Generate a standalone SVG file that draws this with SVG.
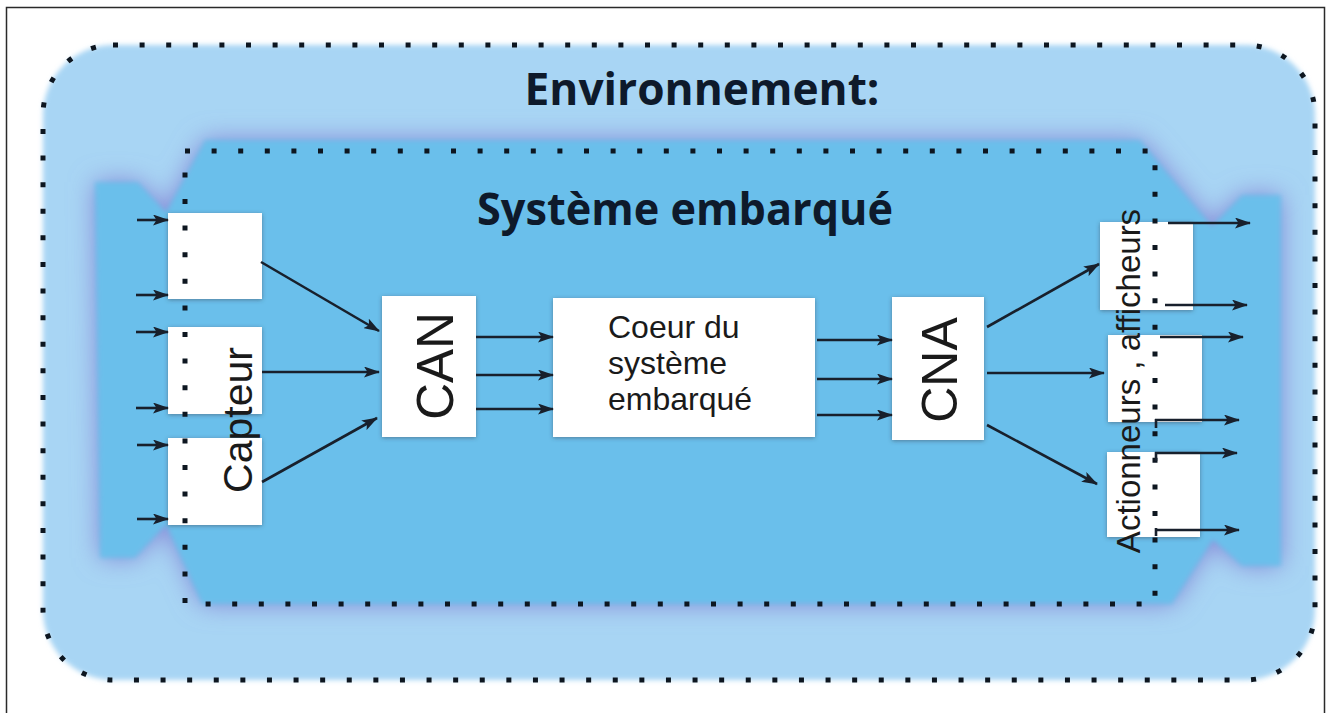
<svg xmlns="http://www.w3.org/2000/svg" width="1332" height="713" viewBox="0 0 1332 713">
  <style>
    .dots { fill: none; stroke: #0d1620; stroke-width: 5; stroke-dasharray: 5 21.6; }
    .box { fill: #ffffff; filter: url(#boxShadow); }
    .wire { fill: none; stroke: #18202c; stroke-width: 2.6; marker-end: url(#head); }
    .tick { fill: none; stroke: #18202c; stroke-width: 2.6; }
    .heading { font-family: "Open Sans", "Liberation Sans", sans-serif; font-weight: bold; font-size: 44px; fill: #0e1a2b; text-anchor: middle; }
    .label { font-family: "Liberation Sans", Arial, sans-serif; fill: #1a1a1a; }
  </style>
  <defs>
    <marker id="head" viewBox="0 0 16 11" refX="15" refY="5.5" markerWidth="16" markerHeight="11" markerUnits="userSpaceOnUse" orient="auto">
      <path d="M0,0 L16,5.5 L0,11 L3.5,5.5 Z" fill="#18202c"/>
    </marker>
    <filter id="soft" x="-5%" y="-5%" width="110%" height="110%">
      <feGaussianBlur stdDeviation="2.5"/>
    </filter>
    <filter id="glow" x="-10%" y="-20%" width="120%" height="140%">
      <feGaussianBlur stdDeviation="13"/>
    </filter>
    <filter id="boxShadow" x="-20%" y="-20%" width="140%" height="140%">
      <feDropShadow dx="0" dy="1" stdDeviation="2.2" flood-color="#3a4a5a" flood-opacity="0.55"/>
    </filter>
  </defs>

  <rect width="1332" height="713" fill="#ffffff"/>
  <!-- page frame (bottom edge lies below the visible area) -->
  <path d="M6.5,713 V7.5 H1324.5 V713" fill="none" stroke="#2a2a2a" stroke-width="1.5"/>

  <!-- environment area -->
  <g id="environment">
    <rect x="43" y="45" width="1272" height="635" rx="70" fill="#a8d5f4" filter="url(#soft)"/>
    <rect x="43" y="45" width="1272" height="635" rx="70" class="dots"/>
    <text class="heading" x="702" y="105" textLength="355" lengthAdjust="spacingAndGlyphs">Environnement:</text>
  </g>

  <!-- embedded system body with its soft halo -->
  <g id="system">
    <path d="M95,182 L138,182 L166,212 L205,140 L1140,140 L1212,226 L1242,195 L1281,195 L1281,566 L1242,566 L1213,540 L1172,604 L202,604 L166,525 L135,558 L100,558 Z" fill="#8586d6" filter="url(#glow)"/>
    <path d="M95,182 L138,182 L166,212 L205,140 L1140,140 L1212,226 L1242,195 L1281,195 L1281,566 L1242,566 L1213,540 L1172,604 L202,604 L166,525 L135,558 L100,558 Z" fill="#6abfeb" filter="url(#soft)"/>
    <text class="heading" x="685" y="225" textLength="416" lengthAdjust="spacingAndGlyphs">Système embarqué</text>
  </g>

  <!-- sensors -->
  <g id="capteurs">
    <rect class="box" x="168" y="213" width="94" height="86"/>
    <rect class="box" x="168" y="327" width="94" height="87"/>
    <rect class="box" x="168" y="438" width="94" height="87"/>
  </g>

  <!-- analog to digital converter -->
  <g id="can">
    <rect class="box" x="382" y="296" width="94" height="141"/>
    <text class="label" font-size="51" text-anchor="middle" transform="translate(453,366) rotate(-90)">CAN</text>
  </g>

  <!-- processing core -->
  <g id="coeur">
    <rect class="box" x="553" y="298" width="262" height="139"/>
    <text class="label" font-size="32" x="608" y="338">Coeur du</text>
    <text class="label" font-size="32" x="608" y="374">système</text>
    <text class="label" font-size="32" x="608" y="410">embarqué</text>
  </g>

  <!-- digital to analog converter -->
  <g id="cna">
    <rect class="box" x="892" y="297" width="92" height="143"/>
    <text class="label" font-size="50" text-anchor="middle" transform="translate(957,370) rotate(-90)">CNA</text>
  </g>

  <!-- actuators / displays -->
  <g id="actionneurs">
    <rect class="box" x="1100" y="222" width="93" height="88"/>
    <rect class="box" x="1108" y="335" width="94" height="87"/>
    <rect class="box" x="1107" y="452" width="93" height="85"/>
  </g>

  <!-- system boundary, drawn over the boxes it crosses -->
  <rect id="system-boundary" x="185" y="151" width="970" height="453" class="dots"/>

  <g id="labels">
    <text class="label" font-size="41" text-anchor="middle" transform="translate(252,420) rotate(-90)">Capteur</text>
    <text class="label" font-size="33" text-anchor="middle" transform="translate(1140,381) rotate(-90)">Actionneurs , afficheurs</text>
  </g>

  <g id="connectors">
    <!-- inputs from the environment -->
    <path class="wire" d="M137,220 H168"/>
    <path class="wire" d="M136,295 H168"/>
    <path class="wire" d="M136,332 H168"/>
    <path class="wire" d="M136,408 H168"/>
    <path class="wire" d="M137,445 H168"/>
    <path class="wire" d="M137,519 H168"/>
    <!-- sensors to CAN -->
    <path class="wire" d="M261,262 L379,331"/>
    <path class="wire" d="M262,372 H379"/>
    <path class="wire" d="M262,482 L377,418"/>
    <!-- CAN to core -->
    <path class="wire" d="M476,337 H553"/>
    <path class="wire" d="M476,375 H553"/>
    <path class="wire" d="M476,409 H553"/>
    <!-- core to CNA -->
    <path class="wire" d="M817,340 H892"/>
    <path class="wire" d="M817,379 H892"/>
    <path class="wire" d="M817,415 H892"/>
    <!-- CNA to actuators -->
    <path class="wire" d="M987,327 L1099,264"/>
    <path class="wire" d="M987,373 H1104"/>
    <path class="wire" d="M987,425 L1097,484"/>
    <!-- outputs to the environment -->
    <path class="wire" d="M1168,223 H1250"/>
    <path class="wire" d="M1165,305 H1247"/>
    <path class="wire" d="M1160,337 H1243"/>
    <path class="tick" d="M1156,419 V428"/>
    <path class="wire" d="M1155,420 H1239"/>
    <path class="tick" d="M1156,452 V461"/>
    <path class="wire" d="M1155,453 H1237"/>
    <path class="tick" d="M1156,528 V536"/>
    <path class="wire" d="M1155,530 H1239"/>
  </g>
</svg>
